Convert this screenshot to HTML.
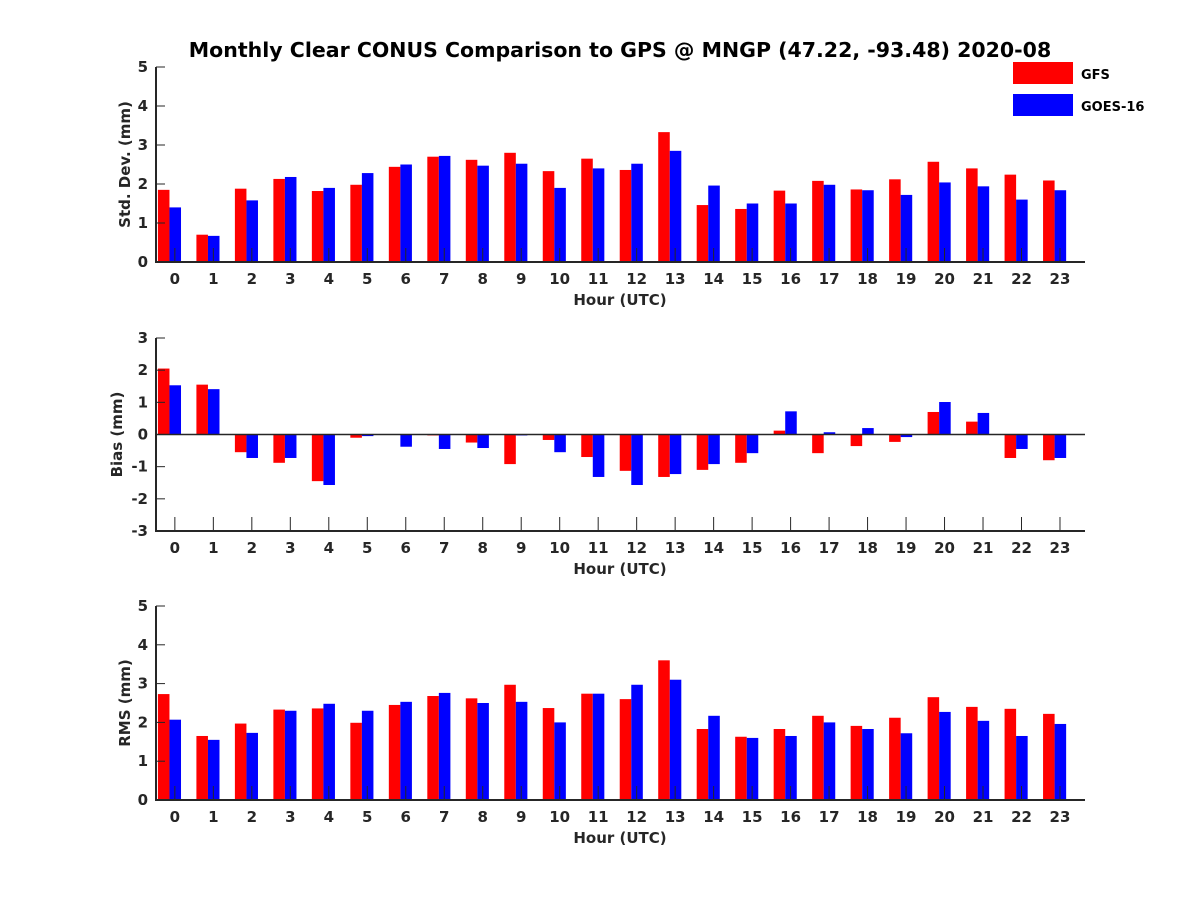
<!DOCTYPE html>
<html><head><meta charset="utf-8"><style>
body{margin:0;background:#fff}
svg{display:block;font-family:"DejaVu Sans","Liberation Sans",sans-serif;font-weight:bold}
</style></head><body>
<svg id="chart" width="1200" height="900" viewBox="0 0 1200 900" xmlns="http://www.w3.org/2000/svg">
<rect width="1200" height="900" fill="#fff"/>
<text x="620" y="57" text-anchor="middle" font-size="20.5">Monthly Clear CONUS Comparison to GPS @ MNGP (47.22, -93.48) 2020-08</text>
<rect x="1013" y="62" width="60" height="22" fill="#ff0000"/>
<text x="1081" y="79" font-size="13">GFS</text>
<rect x="1013" y="94" width="60" height="22" fill="#0000ff"/>
<text x="1081" y="111" font-size="13">GOES-16</text>
<g id="plots"></g>
</svg>
<script>
const hours = [0,1,2,3,4,5,6,7,8,9,10,11,12,13,14,15,16,17,18,19,20,21,22,23];
const stdGFS  = [1.85,0.7,1.88,2.13,1.82,1.98,2.44,2.7,2.62,2.8,2.33,2.65,2.36,3.33,1.46,1.36,1.83,2.08,1.86,2.12,2.57,2.4,2.24,2.09];
const stdGOES = [1.4,0.67,1.58,2.18,1.9,2.28,2.5,2.72,2.47,2.52,1.9,2.4,2.52,2.85,1.96,1.5,1.5,1.98,1.84,1.72,2.04,1.94,1.6,1.84];
const biasGFS  = [2.05,1.55,-0.55,-0.88,-1.45,-0.1,0.0,-0.03,-0.25,-0.92,-0.17,-0.7,-1.13,-1.32,-1.1,-0.88,0.12,-0.58,-0.36,-0.23,0.7,0.4,-0.73,-0.8];
const biasGOES = [1.53,1.41,-0.73,-0.73,-1.57,-0.05,-0.38,-0.45,-0.42,-0.03,-0.55,-1.32,-1.57,-1.23,-0.92,-0.58,0.72,0.07,0.2,-0.08,1.01,0.67,-0.45,-0.73];
const rmsGFS  = [2.73,1.65,1.97,2.33,2.36,1.99,2.45,2.68,2.62,2.97,2.37,2.74,2.6,3.6,1.83,1.63,1.83,2.17,1.91,2.12,2.65,2.4,2.35,2.22];
const rmsGOES = [2.07,1.55,1.73,2.3,2.48,2.3,2.53,2.76,2.5,2.53,2.0,2.74,2.97,3.1,2.17,1.6,1.65,2.0,1.83,1.72,2.27,2.04,1.65,1.96];
const stdTicks = [0,1,2,3,4,5];
const biasTicks = [-3,-2,-1,0,1,2,3];
const rmsTicks = [0,1,2,3,4,5];

const NS = "http://www.w3.org/2000/svg";
const root = document.getElementById('plots');
function mk(tag, attrs, parent){
  const e = document.createElementNS(NS, tag);
  for (const k in attrs) e.setAttribute(k, attrs[k]);
  (parent||root).appendChild(e);
  return e;
}
const X0 = 156, X1 = 1085, XMIN = -0.49, XMAX = 23.65;
function xs(v){ return X0 + (v - XMIN) / (XMAX - XMIN) * (X1 - X0); }

function panel(name, top, bottom, ymin, ymax, ticks, gfs, goes, ylabel, ylabelX){
  const g = mk('g', {});
  
  
  const ys = v => bottom - (v - ymin) / (ymax - ymin) * (bottom - top);
  const y0 = ys(Math.max(ymin, 0));
  hours.forEach((h, i) => {
    const w = 0.3;
    const rl = xs(h - 0.44), rr = xs(h - 0.44 + w), br = xs(h - 0.44 + 2 * w);
    const r = mk('rect', {x: rl, width: rr - rl, y: Math.min(ys(gfs[i]), y0), height: Math.abs(ys(gfs[i]) - y0), fill: '#ff0000'}, g);
    
    
    const b = mk('rect', {x: rr, width: br - rr, y: Math.min(ys(goes[i]), y0), height: Math.abs(ys(goes[i]) - y0), fill: '#0000ff'}, g);
    
    
    const tk = mk('line', {x1: xs(h), x2: xs(h), y1: bottom, y2: bottom - 14, stroke: '#262626', 'stroke-width': 1}, g);
    
    
    const t = mk('text', {x: xs(h), y: bottom + 22, 'text-anchor': 'middle', 'font-size': 15, fill: '#262626'}, g);
    
    
    t.textContent = h;
  });
  if (ymin < 0) {
    const zl = mk('line', {x1: X0, x2: X1, y1: ys(0), y2: ys(0), stroke: '#262626', 'stroke-width': 1.5}, g);
    
    
  }
  ticks.forEach(v => {
    const tl = mk('line', {x1: X0, x2: X0 + 9, y1: ys(v), y2: ys(v), stroke: '#262626', 'stroke-width': 1}, g);
    
    
    const t = mk('text', {x: X0 - 8, y: ys(v) + 5, 'text-anchor': 'end', 'font-size': 15, fill: '#262626'}, g);
    
    
    t.textContent = v;
  });
  const ax = mk('path', {d: `M${X0},${top} V${bottom} H${X1}`, fill: 'none', stroke: '#262626', 'stroke-width': 2}, g);
  
  
  const xl = mk('text', {x: 620, y: bottom + 43, 'text-anchor': 'middle', 'font-size': 15, fill: '#262626'}, g);
  
  
  xl.textContent = 'Hour (UTC)';
  const cy = (top + bottom) / 2;
  const yl = mk('text', {x: ylabelX, y: cy, 'text-anchor': 'middle', 'font-size': 15, fill: '#262626', transform: `rotate(-90 ${ylabelX} ${cy})`}, g);
  
  
  yl.textContent = ylabel;
}
panel('std-dev', 67, 262, 0, 5, stdTicks, stdGFS, stdGOES, 'Std. Dev. (mm)', 130);
panel('bias', 338, 531, -3, 3, biasTicks, biasGFS, biasGOES, 'Bias (mm)', 122);
panel('rms', 606, 800, 0, 5, rmsTicks, rmsGFS, rmsGOES, 'RMS (mm)', 130);
</script>
</body></html>
